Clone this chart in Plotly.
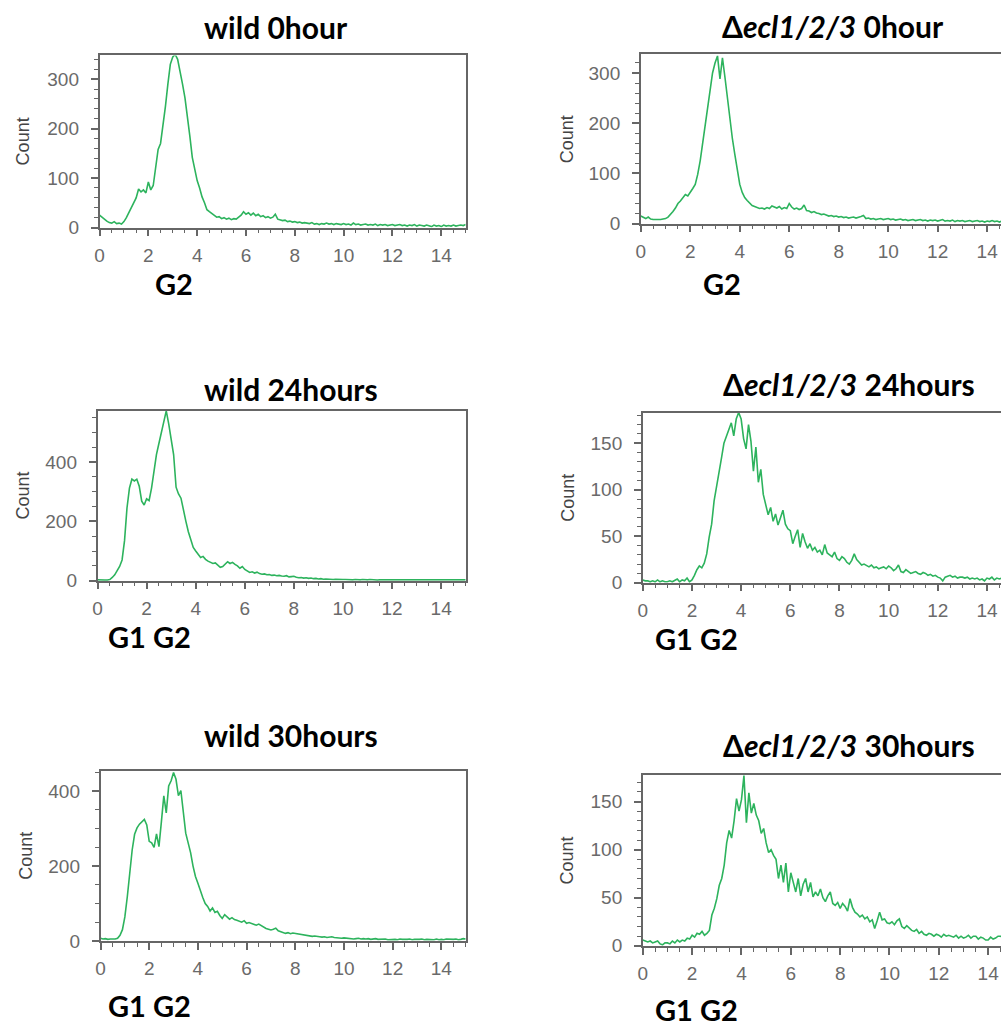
import numpy as np
import plotly.graph_objects as go

# ---------------- data (counts per DNA-content channel, step 0.1 from 0 to 15) ----------------
wild_0h = [25, 20, 17, 13, 10, 9, 12, 8, 9, 7, 12,
           20, 30, 38, 50, 60, 78, 72, 76, 70, 92,
           76, 85, 120, 158, 170, 205, 245, 290, 330, 345,
           350, 340, 318, 290, 262, 228, 185, 142, 118, 95,
           80, 62, 50, 36, 32, 28, 24, 21, 22, 18,
           20, 17, 19, 16, 18, 17, 21, 25, 32, 27,
           30, 25, 29, 24, 27, 22, 24, 20, 22, 19,
           21, 27, 17, 16, 14, 15, 12, 13, 11, 12,
           10, 11, 9, 10, 9, 8, 10, 7, 8, 6,
           8, 7, 9, 7, 8, 6, 8, 7, 6, 8,
           6, 7, 5, 9, 6, 7, 5, 6, 7, 5,
           6, 5, 7, 4, 6, 5, 6, 4, 5, 6,
           4, 5, 6, 4, 5, 3, 5, 4, 6, 3,
           5, 4, 3, 5, 4, 2, 5, 3, 4, 2,
           5, 3, 4, 3, 5, 3, 4, 5, 4, 6]

ecl_0h = [15, 12, 10, 13, 9, 8, 8, 7, 8, 9, 10,
          13, 18, 24, 31, 40, 45, 52, 58, 55, 64,
          70, 78, 98, 125, 160, 196, 240, 275, 300, 320,
          334, 288, 330, 292, 250, 205, 170, 138, 105, 78,
          62, 52, 46, 40, 36, 34, 32, 30, 31, 29,
          32, 30, 35, 33, 31, 34, 29, 32, 30, 40,
          33, 29, 31, 28, 30, 37, 26, 25, 22, 24,
          21, 20, 18, 19, 17, 15, 16, 14, 15, 13,
          14, 12, 13, 11, 12, 13, 11, 12, 14, 16,
          10, 11, 9, 10, 8, 9, 10, 8, 9, 10,
          8, 9, 7, 8, 9, 7, 8, 6, 7, 8,
          6, 7, 8, 6, 7, 5, 7, 6, 7, 5,
          6, 8, 5, 6, 5, 7, 4, 6, 5, 6,
          4, 5, 6, 4, 5, 6, 4, 5, 3, 5,
          4, 6, 4, 5, 3, 5, 4, 5, 4, 5]

wild_24h = [3, 2, 3, 2, 2, 4, 11, 20, 34, 48, 70,
            135, 245, 312, 342, 336, 342, 318, 268, 255, 276,
            270, 312, 370, 425, 462, 500, 536, 572, 528, 470,
            425, 315, 292, 278, 235, 200, 165, 135, 112, 100,
            88, 78, 82, 72, 66, 62, 58, 60, 52, 45,
            48, 55, 64, 58, 62, 55, 50, 42, 48, 38,
            32, 28, 30, 26, 29, 24, 22, 23, 20, 21,
            18, 19, 17, 18, 16, 15, 17, 13, 14, 15,
            12, 10, 11, 9, 10, 8, 9, 7, 8, 6,
            7, 5, 6, 5, 6, 4, 5, 4, 5, 4,
            4, 3, 4, 3, 4, 3, 3, 4, 3, 3,
            4, 3, 3, 2, 3, 3, 4, 3, 2, 4,
            3, 3, 2, 3, 3, 2, 3, 3, 2, 3,
            3, 2, 3, 2, 3, 2, 3, 2, 3, 2,
            3, 2, 3, 2, 2, 3, 2, 3, 2, 3]

ecl_24h = [3, 2, 2, 1, 2, 1, 3, 1, 2, 1, 1,
           2, 1, 3, 4, 1, 3, 2, 5, 1, 3,
           8, 14, 18, 16, 21, 31, 49, 63, 88, 102,
           120, 134, 150, 158, 166, 172, 158, 176, 183, 176,
           155, 144, 170, 152, 120, 146, 108, 122, 95, 84,
           73, 81, 66, 74, 62, 70, 78, 63, 58, 56,
           42, 50, 57, 38, 53, 44, 37, 42, 35, 38,
           33, 35, 30, 41, 32, 30, 28, 33, 26, 24,
           28, 26, 22, 20, 24, 31, 25, 22, 19, 20,
           18, 17, 19, 16, 17, 15, 16, 17, 15, 18,
           16, 13, 15, 19, 12, 11, 14, 12, 10, 11,
           12, 10, 9, 11, 10, 8, 9, 7, 8, 6,
           5, 2, 6, 7, 8, 6, 7, 5, 6, 6,
           5, 6, 4, 5, 4, 5, 3, 4, 2, 5,
           4, 6, 3, 5, 4, 5, 3, 4, 3, 4]

wild_30h = [7, 5, 6, 4, 5, 4, 5, 7, 15, 30, 64,
            118, 190, 243, 285, 302, 312, 318, 325, 310, 266,
            262, 250, 286, 252, 318, 388, 342, 414, 428, 450,
            432, 388, 402, 350, 288, 262, 236, 200, 172, 154,
            132, 116, 100, 92, 80, 88, 76, 79, 68, 60,
            70, 64, 58, 62, 57, 55, 52, 50, 54, 47,
            49, 46, 44, 42, 45, 41, 36, 33, 31, 29,
            31, 34, 27, 24, 22, 20, 22, 19, 21, 20,
            18, 17, 15, 16, 14, 13, 12, 13, 11, 11,
            10, 11, 9, 10, 11, 9, 8, 9, 7, 8,
            7, 6, 7, 5, 6, 7, 5, 6, 5, 6,
            4, 5, 6, 4, 5, 4, 5, 3, 4, 5,
            4, 3, 5, 4, 3, 4, 5, 3, 4, 3,
            4, 5, 3, 4, 3, 4, 3, 5, 3, 4,
            3, 5, 4, 3, 4, 5, 3, 4, 6, 5]

ecl_30h = [6, 5, 4, 5, 3, 4, 5, 2, 1, 3, 3,
           2, 5, 3, 6, 4, 6, 5, 8, 7, 11,
           9, 13, 12, 15, 11, 13, 16, 32, 39, 49,
           63, 70, 84, 107, 120, 112, 130, 153, 140, 152,
           177, 128, 159, 138, 148, 136, 130, 117, 122, 107,
           97, 100, 94, 90, 70, 84, 66, 86, 56, 76,
           66, 56, 70, 52, 64, 70, 56, 66, 51, 56,
           52, 59, 50, 46, 52, 56, 44, 42, 45, 39,
           44, 41, 36, 49, 40, 35, 33, 30, 32, 28,
           30, 25, 27, 18, 26, 35, 27, 28, 24, 23,
           25, 22, 26, 28, 20, 18, 21, 18, 16, 15,
           17, 13, 15, 12, 11, 13, 12, 10, 12, 11,
           9, 12, 10, 11, 10, 9, 11, 8, 10, 8,
           9, 11, 8, 10, 10, 7, 9, 8, 6, 6,
           9, 7, 8, 10, 10, 8, 9, 7, 8, 7]

titles = ["<b>wild 0hour</b>", "<b>\u0394<i>ecl1/2/3</i> 0hour</b>",
          "<b>wild 24hours</b>", "<b>\u0394<i>ecl1/2/3</i> 24hours</b>",
          "<b>wild 30hours</b>", "<b>\u0394<i>ecl1/2/3</i> 30hours</b>"]
phase_labels = ["<b>G2</b>", "<b>G2</b>", "<b>G1 G2</b>", "<b>G1 G2</b>",
                "<b>G1 G2</b>", "<b>G1 G2</b>"]
x_ticks = [0, 2, 4, 6, 8, 10, 12, 14]

series = [wild_0h, ecl_0h, wild_24h, ecl_24h, wild_30h, ecl_30h]

# ---------------- layout (pixel boxes of each plot area) ----------------
W, H = 1001, 1032
panels = [
    dict(box=(95, 463, 56, 230), xmax=15.0, ymax=348, dt=100, mn=20, right=True),
    dict(box=(639, 1001, 55, 226), xmax=14.56, ymax=337, dt=100, mn=20, right=False),
    dict(box=(93, 463, 415, 587), xmax=15.0, ymax=573, dt=200, mn=50, right=True),
    dict(box=(641, 1001, 417, 589), xmax=14.57, ymax=183, dt=50, mn=10, right=False),
    dict(box=(96, 463, 779, 951), xmax=15.0, ymax=455, dt=200, mn=50, right=True),
    dict(box=(641, 1001, 783, 956), xmax=14.52, ymax=178, dt=50, mn=10, right=False),
]
title_pos = [(272, 27), (832, 26), (287, 393), (848, 388), (287, 743), (848, 753)]
phase_pos = [(170, 287), (721, 287), (145, 643), (695, 645), (145, 1016), (695, 1020)]
count_x = [19, 565, 18, 565, 21, 565]

def px(x):
    return x / W

def py(y):
    return 1 - y / H

green = "#2db35d"
axis_col = "#666666"
tick_font = dict(family="Liberation Sans, Arial", size=19, color="#6a6a6a")
title_font = dict(family="Lato, Open Sans", size=30, color="black")
phase_font = dict(family="Lato, Open Sans", size=29, color="black")

fig = go.Figure()
layout = dict(width=W, height=H, margin=dict(l=0, r=0, t=0, b=0),
              paper_bgcolor="white", plot_bgcolor="white", showlegend=False)
annotations = []

for i, (vals, p) in enumerate(zip(series, panels)):
    n = i + 1
    xs = np.round(np.arange(len(vals)) * 0.1, 1)
    fig.add_trace(go.Scatter(x=xs, y=vals, mode="lines",
                             line=dict(color=green, width=1.6),
                             xaxis=f"x{n}", yaxis=f"y{n}", cliponaxis=True))
    l, r, t, b = p["box"]
    xa = dict(domain=[px(l), px(r)], range=[0, p["xmax"]], anchor=f"y{n}",
              showline=True, linecolor=axis_col, linewidth=1.5, mirror=True,
              ticks="outside", ticklen=7, tickwidth=1.5, tickcolor=axis_col,
              tickvals=x_ticks, showgrid=False, zeroline=False,
              tickfont=tick_font, ticklabelstandoff=3,
              minor=dict(dtick=0.5, tick0=0, ticks="outside", ticklen=4,
                         tickwidth=1, tickcolor=axis_col, showgrid=False))
    ya = dict(domain=[py(b), py(t)], range=[0, p["ymax"]], anchor=f"x{n}",
              showline=True, linecolor=axis_col, linewidth=1.5,
              mirror=p["right"],
              ticks="outside", ticklen=7, tickwidth=1.5, tickcolor=axis_col,
              dtick=p["dt"], tick0=0, showgrid=False, zeroline=False,
              tickfont=tick_font, ticklabelstandoff=8,
              minor=dict(dtick=p["mn"], tick0=0, ticks="outside", ticklen=4,
                         tickwidth=1, tickcolor=axis_col, showgrid=False))
    layout["xaxis" if n == 1 else f"xaxis{n}"] = xa
    layout["yaxis" if n == 1 else f"yaxis{n}"] = ya

    tx, ty = title_pos[i]
    annotations.append(dict(text=titles[i], x=px(tx), y=py(ty), xref="paper", yref="paper",
                            xanchor="center", yanchor="middle", showarrow=False,
                            font=title_font))
    gx, gy = phase_pos[i]
    annotations.append(dict(text=phase_labels[i], x=px(gx), y=py(gy), xref="paper", yref="paper",
                            xanchor="center", yanchor="middle", showarrow=False,
                            font=phase_font))
    annotations.append(dict(text="Count", x=px(count_x[i]), y=py((t + b) / 2),
                            xref="paper", yref="paper", textangle=-90,
                            xanchor="center", yanchor="middle", showarrow=False,
                            font=dict(family="Liberation Sans, Arial", size=18, color="#444444")))

layout["annotations"] = annotations
fig.update_layout(**layout)
fig.write_html("out.html")
